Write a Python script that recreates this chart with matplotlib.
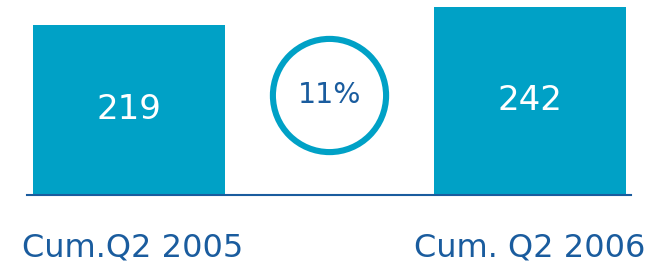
import matplotlib
matplotlib.use("Agg")
import matplotlib.pyplot as plt

categories = ["Cum.Q2 2005", "Cum. Q2 2006"]
values = [219, 242]
growth_label = "11%"

BAR = "#00A1C6"
DARK = "#1A5C9E"

W, H = 657, 263
fig = plt.figure(figsize=(W / 100, H / 100), dpi=100)
ax = fig.add_axes([27 / W, (H - 195) / H, 604 / W, 188 / H])

x = list(range(len(categories)))
ax.bar(x, values, width=0.48, color=BAR, zorder=2)
ax.set_xlim(-0.254, 1.252)
ax.set_ylim(0, max(values))

for xi, v in zip(x, values):
    ax.text(xi, v / 2, str(v), ha="center", va="center", color="white",
            fontsize=24.5)

label_dx = [2.5, 0]
for xi, lab, dx in zip(x, categories, label_dx):
    ax.annotate(lab, xy=(xi, 0), xytext=(dx, -44.6), textcoords="offset points",
                ha="center", va="baseline", color=DARK, fontsize=23,
                annotation_clip=False)

# growth circle between the bars
cx = (x[0] + x[1]) / 2
cy = max(values) * 0.53
ax.plot([cx], [cy], marker="o", markersize=81.5, markerfacecolor="white",
        markeredgecolor=BAR, markeredgewidth=4.4, zorder=3, clip_on=False)
ax.text(cx, cy + 1, growth_label, ha="center", va="center", color=DARK,
        fontsize=20.5, zorder=4)

for s in ["top", "right", "left"]:
    ax.spines[s].set_visible(False)
ax.spines["bottom"].set_color(DARK)
ax.spines["bottom"].set_linewidth(1.5)
ax.set_xticks([])
ax.set_yticks([])
ax.patch.set_alpha(0)

fig.savefig("out.png", dpi=100)
